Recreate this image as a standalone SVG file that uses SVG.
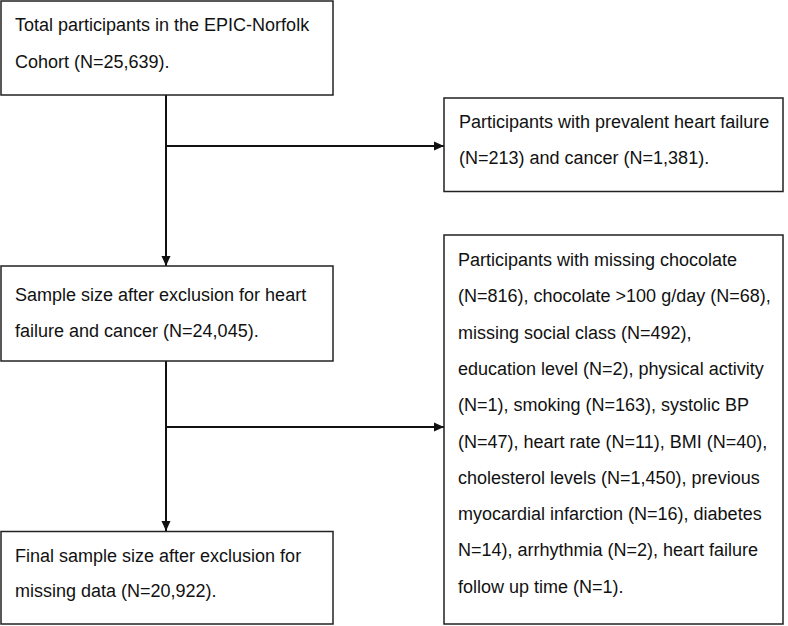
<svg xmlns="http://www.w3.org/2000/svg" width="788" height="626" viewBox="0 0 788 626">
<style>
.box{fill:#fff;stroke:#222;stroke-width:1.5}
.t{font-family:"Liberation Sans",Arial,sans-serif;font-size:18px;fill:#111}
.c{stroke:#111;stroke-width:2;fill:none}
</style>
<defs>
<marker id="ah" markerWidth="10" markerHeight="10" refX="10" refY="5" orient="auto" markerUnits="userSpaceOnUse">
<path d="M0,0.5 L10,5 L0,9.5 Z" fill="#111"/>
</marker>
</defs>
<rect width="788" height="626" fill="#fff"/>
<g id="connectors">
<line class="c" x1="166" y1="95" x2="166" y2="266" marker-end="url(#ah)"/>
<line class="c" x1="166" y1="146" x2="444" y2="146" marker-end="url(#ah)"/>
<line class="c" x1="166" y1="361" x2="166" y2="531" marker-end="url(#ah)"/>
<line class="c" x1="166" y1="427" x2="444" y2="427" marker-end="url(#ah)"/>
</g>
<g id="n1">
<rect class="box" x="1" y="1" width="332" height="94"/>
<text class="t" x="15" y="31">Total participants in the EPIC-Norfolk</text>
<text class="t" x="15" y="67.5">Cohort (N=25,639).</text>
</g>
<g id="n2">
<rect class="box" x="444" y="98" width="339" height="93.5"/>
<text class="t" x="459" y="128">Participants with prevalent heart failure</text>
<text class="t" x="459" y="164">(N=213) and cancer (N=1,381).</text>
</g>
<g id="n3">
<rect class="box" x="1" y="266" width="332" height="95"/>
<text class="t" x="15" y="301">Sample size after exclusion for heart</text>
<text class="t" x="15" y="337">failure and cancer (N=24,045).</text>
</g>
<g id="n4">
<rect class="box" x="444" y="235" width="339" height="389"/>
<text class="t" x="458" y="266">Participants with missing chocolate</text>
<text class="t" x="458" y="302.3">(N=816), chocolate &gt;100 g/day (N=68),</text>
<text class="t" x="458" y="338.6">missing social class (N=492),</text>
<text class="t" x="458" y="374.9">education level (N=2), physical activity</text>
<text class="t" x="458" y="411.2">(N=1), smoking (N=163), systolic BP</text>
<text class="t" x="458" y="447.5">(N=47), heart rate (N=11), BMI (N=40),</text>
<text class="t" x="458" y="483.8">cholesterol levels (N=1,450), previous</text>
<text class="t" x="458" y="520.1">myocardial infarction (N=16), diabetes</text>
<text class="t" x="458" y="556.4">N=14), arrhythmia (N=2), heart failure</text>
<text class="t" x="458" y="592.7">follow up time (N=1).</text>
</g>
<g id="n5">
<rect class="box" x="1" y="531.5" width="332" height="92.5"/>
<text class="t" x="15" y="562">Final sample size after exclusion for</text>
<text class="t" x="15" y="597">missing data (N=20,922).</text>
</g>
</svg>
